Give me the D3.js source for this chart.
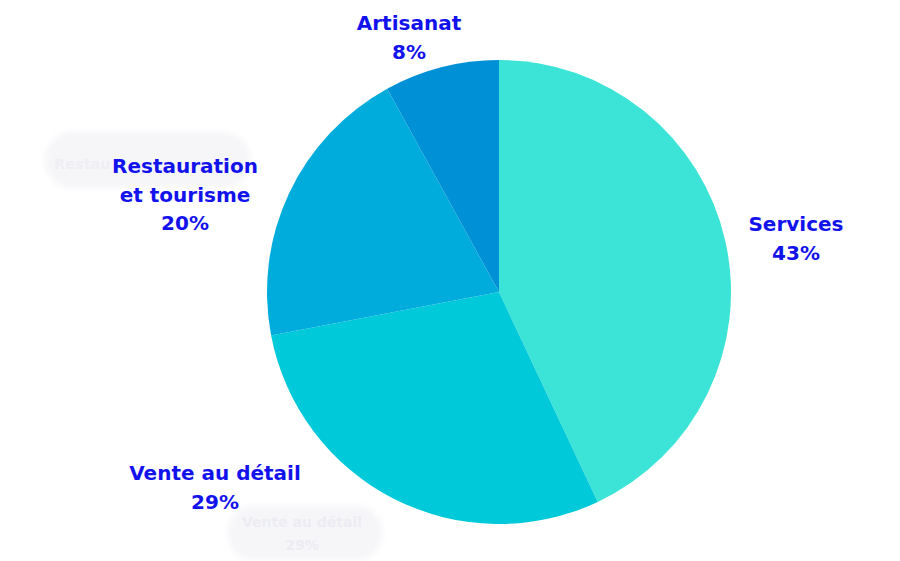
<!DOCTYPE html>
<html><head><meta charset="utf-8">
<script src="https://cdn.jsdelivr.net/npm/d3@7"></script>
<style>html,body{margin:0;padding:0;background:#fff;}</style>
</head><body>
<svg id="chart" width="900" height="561"></svg>
<script>
const categories = ["Services", "Vente au détail", "Restauration et tourisme", "Artisanat"];
const values = [43, 29, 20, 8];
const colors = ["#3be4d6", "#00c9da", "#00acdb", "#0090d5"];
const labelLines = [["Services"], ["Vente au détail"], ["Restauration", "et tourisme"], ["Artisanat"]];
const labelPos = [[796, 231], [215, 480], [185, 173], [409, 30]];

const svg = d3.select("#chart");
const cx = 499, cy = 292, r = 232;

const defs = svg.append("defs");
defs.append("filter").attr("id", "soft").append("feGaussianBlur").attr("stdDeviation", 3);

// faint ghost labels
const ghost = svg.append("g");
ghost.append("rect").attr("x", 45).attr("y", 132).attr("width", 205).attr("height", 56).attr("rx", 26)
  .attr("fill", "#f6f6f9").attr("filter", "url(#soft)");
ghost.append("text").attr("x", 54).attr("y", 169).attr("font-family", "'DejaVu Sans', sans-serif").attr("font-weight", 700)
  .attr("font-size", 14.5).attr("fill", "#eeeef3").text("Restau");
ghost.append("rect").attr("x", 228).attr("y", 506).attr("width", 154).attr("height", 54).attr("rx", 24)
  .attr("fill", "#f6f6f9").attr("filter", "url(#soft)");
ghost.append("text").attr("x", 302).attr("y", 527).attr("text-anchor", "middle").attr("font-family", "'DejaVu Sans', sans-serif")
  .attr("font-weight", 700).attr("font-size", 14).attr("fill", "#ececf2").text("Vente au détail");
ghost.append("text").attr("x", 302).attr("y", 550).attr("text-anchor", "middle").attr("font-family", "'DejaVu Sans', sans-serif")
  .attr("font-weight", 700).attr("font-size", 14).attr("fill", "#ececf2").text("29%");

const pie = d3.pie().sort(null).value(d => d);
const arc = d3.arc().innerRadius(0).outerRadius(r);
const arcs = pie(values);

svg.append("g").attr("transform", `translate(${cx},${cy})`)
  .selectAll("path").data(arcs).join("path")
  .attr("d", arc).attr("fill", (d, i) => colors[i]);

const lg = svg.append("g").attr("font-family", "'DejaVu Sans', sans-serif").attr("font-weight", 700)
  .attr("font-size", 20).attr("fill", "#1212ec").attr("text-anchor", "middle");
categories.forEach((c, i) => {
  const lines = labelLines[i].concat([values[i] + "%"]);
  const t = lg.append("text").attr("x", labelPos[i][0]).attr("y", labelPos[i][1]);
  lines.forEach((l, j) => {
    t.append("tspan").attr("x", labelPos[i][0]).attr("dy", j === 0 ? 0 : 28.5).text(l);
  });
});
</script>
</body></html>
